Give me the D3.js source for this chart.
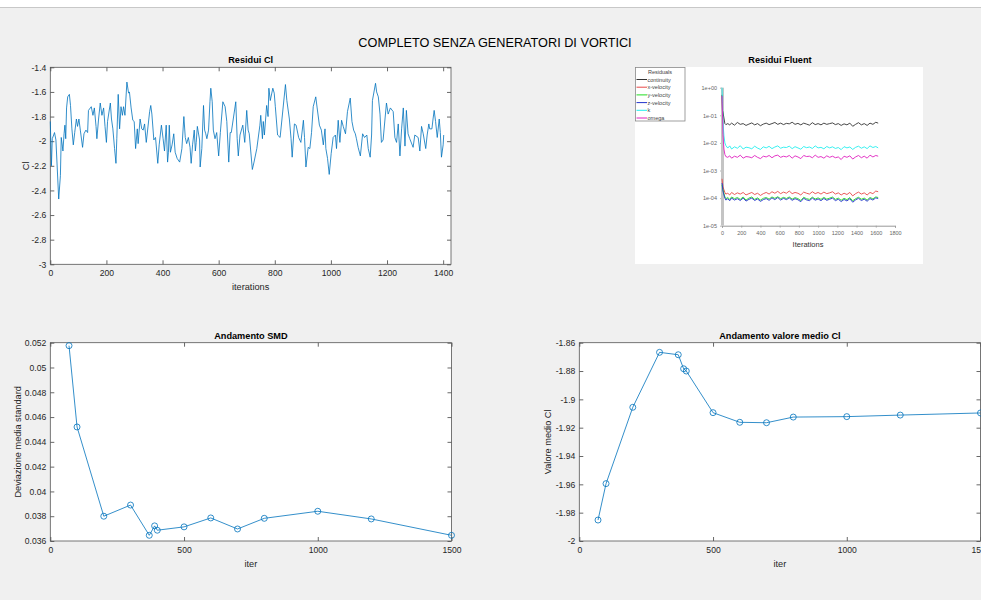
<!DOCTYPE html>
<html lang="it">
<head>
<meta charset="UTF-8">
<script src="https://d3js.org/d3.v7.min.js"></script>
<style>
  body { margin: 0; background: #f0f0f0; font-family: Arial, "Liberation Sans", sans-serif; }
  svg { display: block; }
  .tick text { fill: #262626; font-size: 8.6px; font-family: Arial, "Liberation Sans", sans-serif; }
  .tick line { stroke: #262626; stroke-width: 0.7; }
  .flu .tick text { fill: #666; font-size: 5.5px; }
  .flu .tick line { stroke: #999; stroke-width: 0.7; }
</style>
</head>
<body>
<svg width="981" height="600"></svg>
<script>
// --- Residui Cl (iteration, Cl) ---
const clResidui = [[0,-1.84],[4,-2.20],[7,-1.98],[12,-1.95],[15,-1.93],[20,-1.99],[30,-2.47],[36,-2.28],[39,-1.97],[43,-2.04],[45,-2.08],[49,-1.94],[52,-1.87],[55,-1.98],[58,-1.73],[62,-1.64],[68,-1.62],[72,-1.71],[77,-1.90],[82,-2.03],[87,-1.93],[93,-1.82],[97,-1.88],[102,-1.82],[107,-1.91],[115,-2.05],[120,-1.94],[127,-1.91],[133,-1.93],[136,-1.75],[146,-1.72],[152,-1.79],[157,-1.73],[163,-1.88],[166,-1.98],[172,-1.82],[178,-1.69],[184,-1.79],[190,-1.73],[195,-1.88],[200,-2.01],[204,-1.84],[214,-1.69],[218,-1.82],[223,-1.90],[229,-2.06],[234,-2.18],[237,-1.98],[242,-1.62],[247,-1.90],[252,-1.72],[257,-1.79],[261,-1.72],[266,-1.79],[273,-1.52],[279,-1.61],[282,-1.60],[288,-1.73],[294,-1.83],[299,-1.84],[304,-2.06],[310,-1.90],[313,-2.02],[320,-1.82],[326,-1.90],[331,-1.91],[336,-1.86],[342,-2.01],[354,-1.76],[358,-1.71],[362,-1.78],[369,-1.99],[375,-1.97],[383,-2.18],[388,-2.03],[396,-1.87],[402,-1.98],[407,-2.08],[413,-1.87],[418,-2.17],[421,-2.09],[424,-1.87],[428,-2.09],[434,-2.03],[440,-1.94],[445,-2.09],[452,-2.14],[461,-2.17],[469,-2.06],[476,-1.80],[481,-1.97],[486,-2.02],[492,-1.97],[498,-2.05],[502,-2.18],[507,-2.03],[513,-1.91],[517,-2.08],[520,-2.01],[524,-1.88],[532,-1.99],[534,-2.21],[540,-2.06],[546,-1.71],[550,-1.91],[554,-1.94],[558,-1.98],[564,-1.91],[569,-1.68],[572,-1.57],[577,-1.68],[581,-1.91],[587,-1.98],[593,-1.93],[600,-2.12],[606,-1.93],[615,-1.68],[623,-1.72],[629,-1.84],[636,-2.17],[641,-1.93],[645,-1.93],[661,-1.68],[666,-1.98],[670,-2.12],[676,-1.95],[686,-1.87],[693,-2.01],[700,-1.75],[705,-1.91],[709,-1.94],[720,-2.23],[726,-2.17],[736,-2.06],[747,-1.87],[750,-1.79],[756,-1.98],[759,-1.84],[763,-1.95],[771,-1.71],[776,-1.80],[779,-1.57],[784,-1.67],[793,-1.57],[798,-1.61],[802,-1.72],[810,-1.95],[819,-1.97],[838,-1.54],[843,-1.67],[852,-1.82],[858,-1.98],[862,-2.13],[870,-1.86],[876,-1.87],[885,-1.97],[893,-2.01],[902,-1.83],[906,-1.97],[911,-2.21],[919,-2.05],[925,-2.06],[931,-1.93],[937,-1.72],[946,-1.64],[951,-1.73],[959,-1.87],[966,-1.91],[973,-2.03],[979,-1.90],[982,-2.06],[988,-2.14],[994,-2.27],[1001,-2.10],[1008,-1.97],[1016,-1.95],[1020,-2.06],[1026,-1.83],[1032,-2.01],[1038,-1.83],[1044,-1.88],[1052,-1.94],[1059,-1.76],[1069,-1.65],[1075,-1.84],[1081,-1.91],[1087,-1.94],[1091,-1.98],[1097,-2.05],[1105,-2.12],[1113,-1.94],[1120,-1.97],[1128,-1.95],[1133,-2.06],[1140,-2.13],[1145,-1.95],[1148,-1.67],[1159,-1.53],[1163,-1.60],[1169,-1.64],[1175,-1.78],[1180,-2.01],[1186,-1.99],[1198,-1.69],[1204,-1.78],[1212,-1.73],[1222,-1.76],[1228,-1.97],[1234,-2.01],[1240,-1.86],[1246,-2.12],[1252,-1.90],[1258,-1.73],[1264,-2.04],[1269,-1.75],[1275,-1.94],[1281,-1.98],[1293,-2.05],[1299,-1.95],[1311,-1.97],[1317,-2.08],[1323,-1.88],[1329,-1.94],[1338,-2.06],[1343,-1.95],[1349,-1.86],[1352,-1.90],[1360,-1.90],[1364,-1.82],[1368,-1.75],[1373,-1.84],[1379,-1.97],[1386,-1.82],[1390,-1.93],[1394,-2.13],[1400,-2.03],[1402,-1.95]];

// --- Andamento SMD / valore medio ---
const iterPts = [70, 100, 200, 300, 370, 390, 400, 500, 600, 700, 800, 1000, 1200, 1500];
const smdValues = [0.05176, 0.0452, 0.0380, 0.0389, 0.03646, 0.03722, 0.03687, 0.03714, 0.03786, 0.03697, 0.03783, 0.0384, 0.03778, 0.03646];
const meanClValues = [-1.9852, -1.9595, -1.9056, -1.8668, -1.8685, -1.8784, -1.8800, -1.9094, -1.9162, -1.9165, -1.9125, -1.9122, -1.9111, -1.9096];

// --- Residui Fluent (screenshot of Fluent residuals) ---
const fluentIter = [0,5,10,20,30,40,60,80,100,130,160,190,220,250,280,310,340,370,400,430,
  460,490,520,550,580,610,640,670,700,730,760,790,820,850,880,910,940,970,1000,1030,
  1060,1090,1120,1150,1180,1210,1240,1270,1300,1330,1360,1390,1420,1450,1480,1510,1540,1570,1600,1625];
const fluentNames = ["continuity", "x-velocity", "y-velocity", "z-velocity", "k", "omega"];
const fluentColors = ["#333333", "#e84848", "#22dd22", "#2233cc", "#22eeee", "#e020c0"];
const continuity = [0.55,0.15,0.13,0.08,0.05,0.046,0.05,0.045,0.052,0.044,0.055,0.047,0.05,0.043,0.048,0.053,0.045,0.05,0.042,0.048,
  0.052,0.046,0.05,0.055,0.047,0.052,0.046,0.051,0.049,0.056,0.047,0.051,0.045,0.052,0.048,0.044,0.054,0.046,0.05,0.045,
  0.052,0.047,0.05,0.053,0.046,0.05,0.043,0.049,0.045,0.052,0.04,0.047,0.054,0.045,0.05,0.043,0.052,0.047,0.056,0.052];
const xVelocity = [5e-4,3.5e-4,2.6e-4,2e-4,1.6e-4,1.4e-4,1.5e-4,1.3e-4,1.6e-4,1.35e-4,1.55e-4,1.4e-4,1.6e-4,1.3e-4,1.45e-4,1.6e-4,1.35e-4,1.5e-4,1.25e-4,1.45e-4,
  1.6e-4,1.4e-4,1.7e-4,1.5e-4,1.75e-4,1.45e-4,1.65e-4,1.5e-4,1.8e-4,1.45e-4,1.6e-4,1.5e-4,1.3e-4,1.65e-4,1.5e-4,1.4e-4,1.7e-4,1.45e-4,1.6e-4,1.4e-4,
  1.65e-4,1.45e-4,1.55e-4,1.7e-4,1.4e-4,1.55e-4,1.3e-4,1.5e-4,1.35e-4,1.6e-4,1.2e-4,1.45e-4,1.65e-4,1.4e-4,1.55e-4,1.3e-4,1.6e-4,1.45e-4,1.8e-4,1.7e-4];
const yVelocity = [3e-4,2.4e-4,2e-4,1.5e-4,1.1e-4,9.5e-5,1.05e-4,9e-5,1.1e-4,9.5e-5,1.05e-4,9e-5,1.1e-4,8.5e-5,1e-4,1.1e-4,9e-5,1.02e-4,8.5e-5,9.8e-5,
  1.05e-4,9.2e-5,1.1e-4,9.8e-5,1.12e-4,9.5e-5,1.06e-4,9.7e-5,1.1e-4,9.2e-5,1.04e-4,9.6e-5,8.2e-5,1.07e-4,9.5e-5,9e-5,1.08e-4,9.3e-5,1.02e-4,9e-5,
  1.06e-4,9.2e-5,1e-4,1.09e-4,9e-5,1e-4,8.4e-5,9.8e-5,8.8e-5,1.04e-4,8e-5,9.5e-5,1.07e-4,9.1e-5,1e-4,8.5e-5,1.05e-4,9.4e-5,1.1e-4,1.05e-4];
const zVelocity = [3.5e-4,2.8e-4,1.8e-4,1.3e-4,1e-4,8.5e-5,9.5e-5,8e-5,1e-4,8.5e-5,9.5e-5,8.2e-5,1e-4,7.8e-5,9e-5,1e-4,8.2e-5,9.3e-5,7.6e-5,8.8e-5,
  9.6e-5,8.3e-5,1.02e-4,8.8e-5,1.05e-4,8.5e-5,9.8e-5,8.8e-5,1.02e-4,8.3e-5,9.5e-5,8.7e-5,7.4e-5,9.8e-5,8.6e-5,8.1e-5,1e-4,8.4e-5,9.3e-5,8.1e-5,
  9.7e-5,8.3e-5,9.1e-5,1e-4,8.1e-5,9.1e-5,7.5e-5,8.9e-5,7.9e-5,9.5e-5,7.1e-5,8.6e-5,9.8e-5,8.2e-5,9.1e-5,7.7e-5,9.6e-5,8.5e-5,1.02e-4,9.6e-5];
const kResid = [1.0,0.3,0.06,0.018,0.01,0.008,0.0065,0.0078,0.006,0.0072,0.0064,0.0079,0.006,0.007,0.0067,0.0061,0.0076,0.0065,0.0058,0.0072,
  0.0066,0.0075,0.0062,0.0071,0.0078,0.0064,0.007,0.0068,0.0076,0.0062,0.0073,0.0066,0.0059,0.0074,0.0067,0.0071,0.0063,0.0078,0.0066,0.0069,
  0.0061,0.0074,0.0066,0.0072,0.0063,0.0068,0.0057,0.0073,0.0066,0.0071,0.0058,0.0069,0.0076,0.0064,0.0072,0.0062,0.0078,0.0068,0.0074,0.0066];
const omegaResid = [0.5,0.12,0.02,0.006,0.0038,0.0032,0.003,0.0034,0.0028,0.0033,0.003,0.0036,0.0028,0.0032,0.0031,0.0029,0.0035,0.003,0.0027,0.0033,
  0.0031,0.0035,0.0029,0.0034,0.0036,0.003,0.0033,0.0031,0.0035,0.0028,0.0034,0.0031,0.0027,0.0035,0.0032,0.0033,0.0029,0.0036,0.003,0.0032,
  0.0028,0.0034,0.003,0.0033,0.0029,0.0031,0.0025,0.0033,0.003,0.0034,0.0026,0.0031,0.0035,0.0029,0.0033,0.0028,0.0036,0.0031,0.0035,0.0033];
const fluentSeries = [continuity, xVelocity, yVelocity, zVelocity, kResid, omegaResid];

const blue = "#0072BD";
const svg = d3.select("svg");

// white strip on top of the figure window
svg.append("rect").attr("x", 0).attr("y", 0).attr("width", 981).attr("height", 7).attr("fill", "#fff");
svg.append("line").attr("x1", 0).attr("x2", 981).attr("y1", 7.5).attr("y2", 7.5).attr("stroke", "#c8c8c8");

svg.append("text").attr("x", 495).attr("y", 47).attr("text-anchor", "middle")
  .attr("font-size", "12.7px").attr("fill", "#000").text("COMPLETO SENZA GENERATORI DI VORTICI");

// matlab-like axes
function panel(o) {
  const g = svg.append("g");
  const x = d3.scaleLinear().domain(o.xDomain).range([o.left, o.left + o.width]);
  const y = d3.scaleLinear().domain(o.yDomain).range([o.top + o.height, o.top]);
  g.append("rect").attr("x", o.left).attr("y", o.top).attr("width", o.width).attr("height", o.height).attr("fill", "#fff");

  g.append("g").attr("transform", `translate(0,${o.top + o.height})`)
    .call(d3.axisBottom(x).tickValues(o.xTicks).tickSizeInner(-4).tickSizeOuter(0).tickPadding(6).tickFormat(d3.format("")));
  g.append("g").attr("transform", `translate(0,${o.top})`)
    .call(d3.axisTop(x).tickValues(o.xTicks).tickSizeInner(-4).tickSizeOuter(0).tickFormat(""));
  g.append("g").attr("transform", `translate(${o.left},0)`)
    .call(d3.axisLeft(y).tickValues(o.yTicks).tickSizeInner(-4).tickSizeOuter(0).tickPadding(4).tickFormat(o.yFmt));
  g.append("g").attr("transform", `translate(${o.left + o.width},0)`)
    .call(d3.axisRight(y).tickValues(o.yTicks).tickSizeInner(-4).tickSizeOuter(0).tickFormat(""));
  g.selectAll(".domain").remove();
  g.append("rect").attr("x", o.left).attr("y", o.top).attr("width", o.width).attr("height", o.height)
    .attr("fill", "none").attr("stroke", "#555").attr("stroke-width", 0.8);

  g.append("text").attr("x", o.left + o.width / 2).attr("y", o.top - 4).attr("text-anchor", "middle")
    .attr("font-size", "9.2px").attr("font-weight", "bold").attr("fill", "#000").text(o.title);
  g.append("text").attr("x", o.left + o.width / 2).attr("y", o.top + o.height + 26).attr("text-anchor", "middle")
    .attr("font-size", "9.2px").attr("fill", "#262626").text(o.xLabel);
  g.append("text").attr("transform", `translate(${o.yLabelX},${o.top + o.height / 2}) rotate(-90)`)
    .attr("text-anchor", "middle").attr("font-size", "9.2px").attr("fill", "#262626").text(o.yLabel);
  return { g, x, y };
}

const matFmt = d => String(+d.toFixed(4));

// Residui Cl
const p1 = panel({ left: 50.3, top: 67.3, width: 400.7, height: 197,
  xDomain: [0, 1428], yDomain: [-3, -1.4],
  xTicks: d3.range(0, 1401, 200), yTicks: d3.range(-3, -1.39, 0.2).map(v => +v.toFixed(1)), yFmt: matFmt,
  title: "Residui Cl", xLabel: "iterations", yLabel: "Cl", yLabelX: 29 });
p1.g.append("path").datum(clResidui)
  .attr("d", d3.line().x(d => p1.x(d[0])).y(d => p1.y(d[1])))
  .attr("fill", "none").attr("stroke", blue).attr("stroke-width", 0.8);

// Andamento SMD
const p2 = panel({ left: 50.3, top: 342.7, width: 401.2, height: 198.3,
  xDomain: [0, 1500], yDomain: [0.036, 0.052],
  xTicks: [0, 500, 1000, 1500], yTicks: d3.range(0.036, 0.0521, 0.002).map(v => +v.toFixed(3)), yFmt: matFmt,
  title: "Andamento SMD", xLabel: "iter", yLabel: "Deviazione media standard", yLabelX: 21 });
const smd = iterPts.map((it, i) => [it, smdValues[i]]);
p2.g.append("path").datum(smd)
  .attr("d", d3.line().x(d => p2.x(d[0])).y(d => p2.y(d[1])))
  .attr("fill", "none").attr("stroke", blue).attr("stroke-width", 0.8);
p2.g.selectAll("circle").data(smd).enter().append("circle")
  .attr("cx", d => p2.x(d[0])).attr("cy", d => p2.y(d[1])).attr("r", 3)
  .attr("fill", "none").attr("stroke", blue).attr("stroke-width", 0.8);

// Andamento valore medio Cl
const p3 = panel({ left: 579.3, top: 342.7, width: 401.2, height: 198.3,
  xDomain: [0, 1500], yDomain: [-2, -1.86],
  xTicks: [0, 500, 1000, 1500], yTicks: d3.range(-2, -1.859, 0.02).map(v => +v.toFixed(2)), yFmt: matFmt,
  title: "Andamento valore medio Cl", xLabel: "iter", yLabel: "Valore medio Cl", yLabelX: 551 });
const meanCl = iterPts.map((it, i) => [it, meanClValues[i]]);
p3.g.append("path").datum(meanCl)
  .attr("d", d3.line().x(d => p3.x(d[0])).y(d => p3.y(d[1])))
  .attr("fill", "none").attr("stroke", blue).attr("stroke-width", 0.8);
p3.g.selectAll("circle").data(meanCl).enter().append("circle")
  .attr("cx", d => p3.x(d[0])).attr("cy", d => p3.y(d[1])).attr("r", 3)
  .attr("fill", "none").attr("stroke", blue).attr("stroke-width", 0.8);

// Residui Fluent
const fl = svg.append("g").attr("class", "flu");
fl.append("rect").attr("x", 635).attr("y", 67).attr("width", 288).attr("height", 197).attr("fill", "#fff");
fl.append("text").attr("x", 780).attr("y", 63).attr("text-anchor", "middle")
  .attr("font-size", "9.2px").attr("font-weight", "bold").attr("fill", "#000").text("Residui Fluent");
const fx = d3.scaleLinear().domain([0, 1800]).range([722, 895]);
const fy = d3.scaleLog().domain([1e-5, 1]).range([225.7, 87.7]);
fl.append("g").attr("transform", "translate(0,225.7)")
  .call(d3.axisBottom(fx).tickValues(d3.range(0, 1801, 200)).tickSize(2).tickPadding(3).tickFormat(d3.format("")))
  .select(".domain").attr("stroke", "#999");
fl.append("g").attr("transform", "translate(722,0)")
  .call(d3.axisLeft(fy).tickValues([1, 1e-1, 1e-2, 1e-3, 1e-4, 1e-5]).tickSize(2).tickPadding(3)
    .tickFormat(d => d.toExponential(0).replace(/e([+-])(\d)$/, "e$10$2")))
  .select(".domain").remove();
fl.append("line").attr("x1", 722.5).attr("x2", 722.5).attr("y1", 87.7).attr("y2", 225.7)
  .attr("stroke", "#c4c4c4").attr("stroke-width", 3);
fl.append("text").attr("x", 808).attr("y", 247).attr("text-anchor", "middle")
  .attr("font-size", "7.5px").attr("fill", "#333").text("Iterations");

const fline = d3.line().x((d, i) => fx(fluentIter[i])).y(d => fy(d));
fluentSeries.forEach((s, i) => {
  fl.append("path").datum(s).attr("d", fline)
    .attr("fill", "none").attr("stroke", fluentColors[i]).attr("stroke-width", 0.9);
});

// legend
const lg = fl.append("g");
lg.append("rect").attr("x", 635.5).attr("y", 67.5).attr("width", 49.5).attr("height", 53.5)
  .attr("fill", "#fff").attr("stroke", "#888").attr("stroke-width", 0.8);
lg.append("text").attr("x", 660).attr("y", 74).attr("text-anchor", "middle")
  .attr("font-size", "5.5px").attr("fill", "#444").text("Residuals");
fluentNames.forEach((n, i) => {
  const yy = 79.5 + i * 7.7;
  lg.append("line").attr("x1", 636.5).attr("x2", 647).attr("y1", yy).attr("y2", yy)
    .attr("stroke", fluentColors[i]).attr("stroke-width", 1);
  lg.append("text").attr("x", 647.5).attr("y", yy + 2).attr("font-size", "5.5px").attr("fill", "#444").text(n);
});
</script>
</body>
</html>
